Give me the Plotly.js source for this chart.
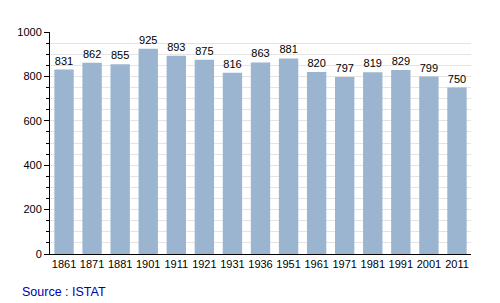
<!DOCTYPE html>
<html><head><meta charset="utf-8">
<script src="https://cdn.plot.ly/plotly-3.0.1.min.js"></script>
<style>html,body{margin:0;padding:0;background:#fff;}#c{width:500px;height:303px;}</style>
</head><body><div id="c"></div>
<script>
const years = ["1861","1871","1881","1901","1911","1921","1931","1936","1951","1961","1971","1981","1991","2001","2011"];
const population = [831,862,855,925,893,875,816,863,881,820,797,819,829,799,750];
const yTicks = [0,200,400,600,800,1000];
const sourceText = "Source : ISTAT";

const trace = {
  type: "bar",
  x: years,
  y: population,
  marker: {color: "#9bb4d0", line: {width: 0}},
  text: population.map(String),
  textposition: "outside",
  cliponaxis: false,
  textfont: {family: "Liberation Sans, Arial, sans-serif", size: 11, color: "#000"},
  hoverinfo: "none"
};

const layout = {
  width: 500, height: 303,
  margin: {l: 50, r: 29, t: 32, b: 49},
  paper_bgcolor: "#fff", plot_bgcolor: "#fff",
  bargap: 0.31,
  showlegend: false,
  font: {family: "Liberation Sans, Arial, sans-serif", size: 11, color: "#000"},
  xaxis: {
    type: "category",
    showline: true, linecolor: "#000", linewidth: 1,
    ticks: "", showgrid: false,
    tickfont: {size: 11, color: "#000"},
    fixedrange: true
  },
  yaxis: {
    range: [0, 1000],
    tickvals: yTicks,
    ticktext: yTicks.map(String),
    ticks: "outside", ticklen: 5, tickcolor: "#000",
    showline: true, linecolor: "#000", linewidth: 1,
    showgrid: false,
    zeroline: false,
    minor: {dtick: 50, tick0: 0, ticks: "outside", ticklen: 3, tickcolor: "#000", showgrid: true, gridcolor: "#e4e4e4", gridwidth: 1},
    tickfont: {size: 11, color: "#000"},
    fixedrange: true
  },
  annotations: [{
    text: sourceText, xref: "paper", yref: "paper",
    x: -0.072, y: -0.169, xanchor: "left", yanchor: "middle",
    showarrow: false,
    font: {family: "Liberation Sans, Arial, sans-serif", size: 12.5, color: "#0000b0"}
  }]
};

Plotly.newPlot("c", [trace], layout, {displayModeBar: false, staticPlot: true});
</script>
</body></html>
